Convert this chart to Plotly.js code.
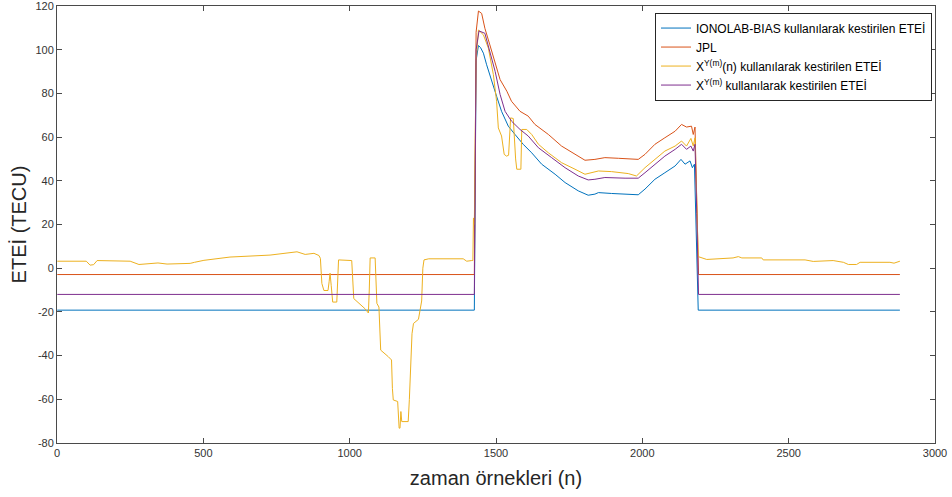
<!DOCTYPE html>
<html>
<head>
<meta charset="utf-8">
<script src="https://cdn.plot.ly/plotly-3.0.1.min.js"></script>
<style>
  html, body { margin: 0; padding: 0; background: #ffffff; }
  #chart { width: 952px; height: 497px; }
</style>
</head>
<body>
<div id="chart"></div>
<script>
// Sample index (n) and TEC estimates in TECU for each method.

// IONOLAB-BIAS estimate
const ionolabN = [1, 1426, 1432, 1440, 1447, 1457, 1468, 1485, 1502, 1519, 1542, 1565, 1593, 1622, 1656, 1702, 1736, 1781, 1815, 1838, 1850, 1895, 1952, 1986, 2009, 2043, 2077, 2112, 2132, 2146, 2163, 2171, 2178, 2185, 2191, 2880];
const ionolabTec = [-19.2, -19.2, 95, 101.9, 101, 98.4, 93.1, 85.5, 78.7, 71.8, 65.0, 61.2, 56.7, 52.8, 47.6, 43.0, 39.2, 35.4, 33.4, 33.9, 34.6, 34.2, 33.9, 33.6, 36.2, 40.7, 43.7, 46.8, 49.8, 47.6, 49.1, 46.0, 47.6, 15, -19.2, -19.2];

// JPL
const jplN = [1, 1426, 1432, 1440, 1451, 1462, 1479, 1497, 1514, 1537, 1553, 1582, 1610, 1633, 1679, 1724, 1770, 1804, 1838, 1872, 1918, 1986, 2009, 2043, 2077, 2112, 2134, 2151, 2168, 2174, 2180, 2186, 2192, 2880];
const jplTec = [-2.9, -2.9, 108, 117.7, 116.6, 109.8, 102.2, 94.6, 86.3, 81.0, 76.4, 71.8, 69.6, 65.8, 61.2, 55.9, 52.1, 49.4, 49.8, 50.6, 50.3, 49.8, 52.1, 56.7, 59.7, 62.7, 65.8, 64.6, 65.0, 61.2, 64.6, 30, -2.9, -2.9];

// X^Y(m)(n) estimate
const xynN = [1, 100, 113, 125, 137, 250, 280, 331, 345, 376, 455, 470, 502, 591, 728, 820, 848, 878, 895, 900, 905, 912, 926, 930, 933, 937, 942, 956, 959, 962, 1007, 1011, 1014, 1052, 1064, 1067, 1070, 1087, 1090, 1093, 1100, 1103, 1106, 1132, 1143, 1146, 1149, 1164, 1167, 1169, 1172, 1175, 1178, 1200, 1204, 1207, 1213, 1218, 1235, 1246, 1250, 1254, 1270, 1388, 1400, 1417, 1421, 1423, 1426, 1432, 1440, 1457, 1474, 1491, 1502, 1508, 1519, 1528, 1536, 1543, 1546, 1550, 1559, 1563, 1567, 1571, 1585, 1588, 1605, 1622, 1645, 1679, 1724, 1770, 1804, 1850, 1895, 1952, 1980, 2009, 2043, 2077, 2112, 2134, 2151, 2166, 2174, 2180, 2186, 2191, 2220, 2265, 2310, 2328, 2340, 2408, 2413, 2556, 2584, 2652, 2670, 2687, 2704, 2732, 2744, 2846, 2860, 2875, 2880];
const xynTec = [3.2, 3.2, 1.4, 1.6, 3.5, 3.2, 1.7, 2.0, 2.4, 1.9, 2.2, 2.7, 3.6, 5.1, 6.0, 7.5, 6.3, 6.8, 5.8, 4.5, -7, -10.2, -10.2, -6, -2.3, -8, -15.5, -15.5, -5, 3.8, 3.5, -8, -13.9, -18.5, -20.5, -10, 4.7, 4.7, -5, -16.1, -17.8, -30, -37.5, -40.5, -42, -55, -60.3, -61, -68, -73.2, -73.2, -65.6, -70.2, -70.2, -60, -51.2, -30, -25.3, -23.4, -15, 0, 3.8, 4.3, 4.3, 3.2, 3.5, 3.5, 23, 20, 95, 109, 106.8, 100.7, 88.6, 76.4, 64.2, 60.5, 52.1, 51.3, 51.7, 60, 68.8, 68.5, 58, 50, 45.3, 45.3, 63.5, 63.5, 61.2, 56.7, 52.8, 48.3, 45.3, 43.0, 44.5, 44.2, 43.3, 42.2, 46.0, 49.8, 53.6, 55.9, 58.2, 55.9, 59.4, 55.9, 59.7, 30, 5.3, 4.0, 4.3, 4.7, 5.3, 4.7, 4.7, 3.8, 3.8, 3.1, 3.5, 3.1, 2.7, 1.7, 1.7, 2.7, 2.7, 2.3, 3.2, 3.2];

// X^Y(m) estimate
const xyN = [1, 1426, 1432, 1442, 1462, 1479, 1497, 1514, 1531, 1553, 1582, 1610, 1645, 1690, 1736, 1781, 1815, 1838, 1872, 1941, 1986, 2009, 2043, 2077, 2112, 2134, 2151, 2166, 2174, 2180, 2186, 2192, 2880];
const xyTec = [-12, -12, 100, 108.6, 107.5, 99.2, 90.1, 79.5, 71.8, 67.3, 63.5, 60.5, 55.1, 50.6, 46.0, 42.2, 40.4, 40.7, 41.5, 41.2, 41.2, 43.7, 47.6, 51.3, 54.4, 56.7, 54.4, 55.9, 53.6, 56.7, 25, -12, -12];

const seriesNames = [
  'IONOLAB-BIAS kullanılarak kestirilen ETEİ',
  'JPL',
  'X<sup>Y(m)</sup>(n) kullanılarak kestirilen ETEİ',
  'X<sup>Y(m)</sup> kullanılarak kestirilen ETEİ'
];
const seriesColors = ['#0072BD', '#D95319', '#EDB120', '#7E2F8E'];

const xTicks = [0, 500, 1000, 1500, 2000, 2500, 3000];
const yTicks = [-80, -60, -40, -20, 0, 20, 40, 60, 80, 100, 120];

const xs = [ionolabN, jplN, xynN, xyN];
const ys = [ionolabTec, jplTec, xynTec, xyTec];

const traces = xs.map((x, i) => ({
  type: 'scatter',
  mode: 'lines',
  x: x,
  y: ys[i],
  name: seriesNames[i],
  line: { color: seriesColors[i], width: 1 }
}));

const FONT = 'Liberation Sans, Arial, sans-serif';

const axisCommon = {
  showline: true,
  linecolor: '#4a4a4a',
  linewidth: 1,
  mirror: 'ticks',
  ticks: 'inside',
  ticklen: 5,
  tickcolor: '#4a4a4a',
  showgrid: false,
  zeroline: false,
  ticklabeloverflow: 'allow',
  tickfont: { family: FONT, size: 11, color: '#333333' }
};

const layout = {
  width: 952,
  height: 497,
  margin: { l: 57, r: 17, t: 6, b: 54 },
  paper_bgcolor: '#ffffff',
  plot_bgcolor: '#ffffff',
  showlegend: true,
  legend: {
    x: 0.9966, xanchor: 'right',
    y: 0.985, yanchor: 'top',
    bgcolor: '#ffffff',
    bordercolor: '#262626',
    borderwidth: 1,
    font: { family: FONT, size: 12, color: '#000000' },
    tracegroupgap: 0
  },
  xaxis: Object.assign({}, axisCommon, {
    range: [0, 3000],
    tickvals: xTicks,
    ticktext: xTicks.map(String),
    title: { text: 'zaman örnekleri (n)', font: { family: FONT, size: 20, color: '#262626' }, standoff: 12 }
  }),
  yaxis: Object.assign({}, axisCommon, {
    range: [-80, 120],
    tickvals: yTicks,
    ticktext: yTicks.map(String),
    title: { text: 'ETEİ (TECU)', font: { family: FONT, size: 20, color: '#262626' }, standoff: 3 }
  })
};

Plotly.newPlot('chart', traces, layout, { staticPlot: true, displayModeBar: false });
</script>
</body>
</html>
